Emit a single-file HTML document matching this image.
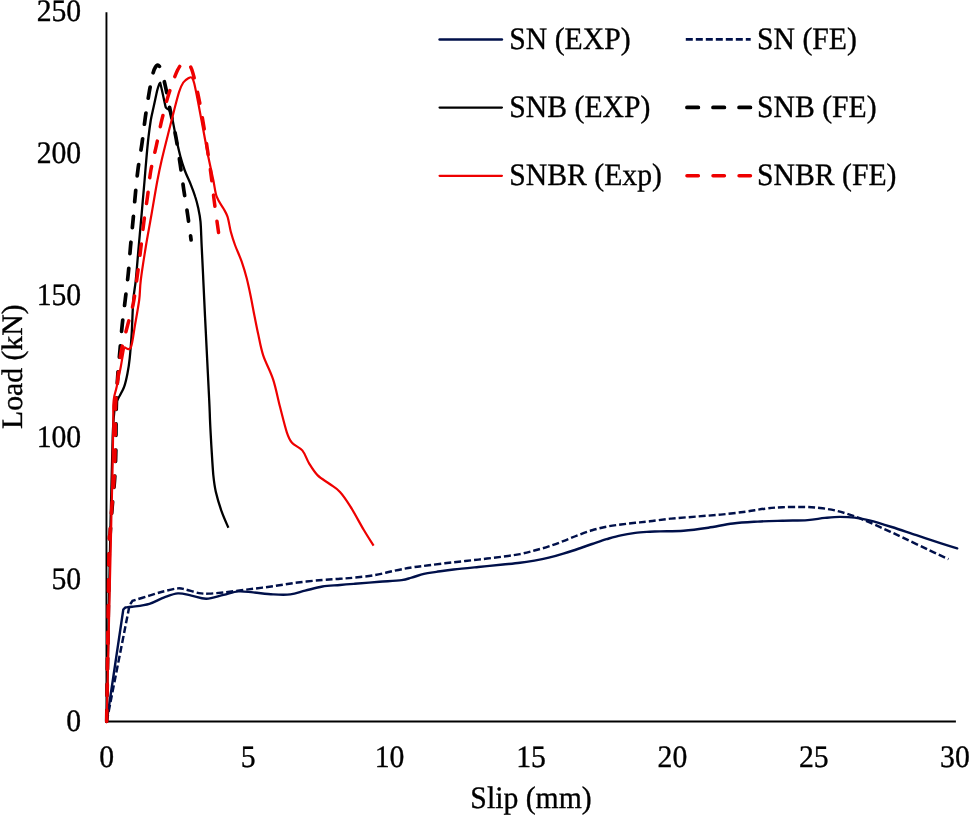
<!DOCTYPE html>
<html><head><meta charset="utf-8"><title>Load-Slip</title>
<style>
html,body{margin:0;padding:0;background:#fff;}
body{width:971px;height:816px;overflow:hidden;}
svg{display:block;will-change:transform;}
text{text-rendering:geometricPrecision;font-family:"Liberation Serif",serif;font-size:30px;fill:#000;stroke:#000;stroke-width:0.35px;}
</style></head><body>
<svg id="c" width="971" height="816" viewBox="0 0 971 816">

<!-- axes -->
<path d="M106.45 12.2 V721.5 H955.9" fill="none" stroke="#000" stroke-width="1.9"/>
<!-- y ticks -->
<text text-anchor="end" transform="translate(81.2 21.1) scale(0.99 1.04)">250</text>
<text text-anchor="end" transform="translate(81.2 163.0) scale(0.99 1.04)">200</text>
<text text-anchor="end" transform="translate(81.2 305.0) scale(0.99 1.04)">150</text>
<text text-anchor="end" transform="translate(81.2 446.9) scale(0.99 1.04)">100</text>
<text text-anchor="end" transform="translate(81.2 588.8) scale(0.99 1.04)">50</text>
<text text-anchor="end" transform="translate(81.2 730.6) scale(0.99 1.04)">0</text>
<!-- x ticks -->
<text text-anchor="middle" transform="translate(106.6 766.5) scale(0.99 1.04)">0</text>
<text text-anchor="middle" transform="translate(248.1 766.5) scale(0.99 1.04)">5</text>
<text text-anchor="middle" transform="translate(389.6 766.5) scale(0.99 1.04)">10</text>
<text text-anchor="middle" transform="translate(531.0 766.5) scale(0.99 1.04)">15</text>
<text text-anchor="middle" transform="translate(672.4 766.5) scale(0.99 1.04)">20</text>
<text text-anchor="middle" transform="translate(813.8 766.5) scale(0.99 1.04)">25</text>
<text text-anchor="middle" transform="translate(954.9 766.5) scale(0.99 1.04)">30</text>
<text id="xl" text-anchor="middle" transform="translate(531.0 808.0) scale(0.99 1.04)">Slip (mm)</text>
<text id="yl" text-anchor="middle" style="font-size:29.7px" transform="translate(22.4 366.7) rotate(-90)">Load (kN)</text>
<!-- CURVES -->
<path d="M106.7 721.5 C109.5 702.8 120.5 628.2 123.3 609.5 C123.7 609.1 125.1 607.8 125.5 607.4 C126.6 607.3 128.1 607.4 132.1 606.8 C136.1 606.2 144.0 605.4 149.4 603.8 C154.8 602.2 159.6 599.0 164.3 597.3 C169.1 595.6 173.4 593.7 177.9 593.4 C182.4 593.1 186.7 594.7 191.4 595.6 C196.1 596.5 200.9 598.9 206.3 598.8 C211.7 598.7 218.2 596.1 223.6 594.9 C228.9 593.7 233.5 591.8 238.4 591.4 C243.3 591.0 247.4 591.9 253.2 592.4 C259.0 592.9 266.8 594.1 273.0 594.4 C279.2 594.7 284.9 595.0 290.3 594.4 C295.7 593.8 299.8 592.0 305.1 590.7 C310.5 589.4 316.6 587.5 322.4 586.5 C328.2 585.5 334.6 585.5 340.0 585.0 C345.4 584.5 348.1 584.3 354.7 583.8 C361.3 583.3 371.6 582.4 379.4 581.8 C387.2 581.2 396.3 580.8 401.7 580.1 C407.1 579.4 407.9 578.6 411.6 577.6 C415.3 576.6 419.8 574.9 423.9 573.9 C428.0 572.9 431.4 572.6 436.3 571.9 C441.2 571.2 446.6 570.3 453.6 569.5 C460.6 568.7 470.1 567.8 478.3 567.0 C486.5 566.2 496.1 565.2 503.0 564.5 C509.9 563.8 514.8 563.4 520.0 562.7 C525.2 562.1 529.6 561.4 534.4 560.6 C539.2 559.8 544.0 558.9 548.8 557.7 C553.6 556.5 558.5 555.1 563.3 553.6 C568.1 552.1 572.9 550.6 577.7 549.0 C582.5 547.4 587.3 545.6 592.1 544.0 C596.9 542.4 601.7 540.7 606.5 539.2 C611.3 537.8 616.1 536.3 620.9 535.3 C625.7 534.2 630.5 533.5 635.3 532.9 C640.1 532.3 645.7 532.0 649.8 531.7 C653.9 531.5 654.4 531.6 660.0 531.4 C665.6 531.2 675.6 531.3 683.6 530.7 C691.6 530.1 700.1 528.9 708.3 527.7 C716.5 526.5 724.8 524.5 733.0 523.5 C741.2 522.5 749.5 522.1 757.7 521.6 C765.9 521.1 774.1 521.0 782.4 520.8 C790.7 520.5 800.5 520.6 807.6 520.1 C814.7 519.6 819.5 518.4 824.9 517.9 C830.3 517.4 834.8 516.9 839.8 516.9 C844.8 516.9 849.7 517.0 854.6 517.6 C859.5 518.2 863.2 518.7 869.4 520.3 C875.6 521.9 883.9 524.5 891.7 527.0 C899.5 529.5 908.2 532.5 916.4 535.2 C924.6 537.9 934.3 541.1 941.1 543.3 C947.9 545.5 954.5 547.5 957.2 548.3" fill="none" stroke="#00104a" stroke-width="2.4" stroke-linejoin="round" stroke-linecap="round"/>
<path d="M106.7 721.5 C110.5 702.1 125.8 624.4 129.6 605.0 C130.1 604.3 132.0 601.6 132.5 600.9 C135.3 600.0 144.1 597.2 149.4 595.6 C154.7 594.0 159.6 592.4 164.3 591.2 C169.1 590.0 174.4 588.7 177.9 588.4 C181.4 588.1 181.8 588.6 185.3 589.4 C188.8 590.2 195.0 592.4 198.9 593.1 C202.8 593.8 204.6 593.7 208.7 593.6 C212.8 593.5 217.0 593.1 223.6 592.4 C230.2 591.7 240.1 590.4 248.3 589.4 C256.5 588.4 264.8 587.4 273.0 586.2 C281.2 585.1 289.5 583.5 297.7 582.5 C305.9 581.5 315.3 580.6 322.4 580.0 C329.4 579.4 334.6 579.2 340.0 578.8 C345.4 578.4 348.9 578.2 354.7 577.6 C360.4 577.0 367.9 576.4 374.5 575.2 C381.1 574.1 388.1 572.0 394.3 570.7 C400.5 569.4 405.8 568.4 411.6 567.5 C417.4 566.6 421.9 566.2 428.9 565.3 C435.9 564.4 445.4 563.2 453.6 562.3 C461.8 561.3 470.1 560.5 478.3 559.6 C486.5 558.7 496.1 557.5 503.0 556.6 C509.9 555.7 514.8 555.1 520.0 554.1 C525.2 553.1 529.6 551.8 534.4 550.5 C539.2 549.2 544.0 548.0 548.8 546.4 C553.6 544.8 558.5 543.0 563.3 541.1 C568.1 539.2 572.9 537.1 577.7 535.3 C582.5 533.5 587.3 531.7 592.1 530.3 C596.9 528.9 601.7 527.7 606.5 526.7 C611.3 525.7 616.1 525.1 620.9 524.5 C625.7 523.9 630.5 523.3 635.3 522.8 C640.1 522.3 643.8 522.0 649.8 521.3 C655.8 520.6 663.5 519.4 671.2 518.6 C678.9 517.8 687.6 517.3 695.9 516.6 C704.1 515.9 712.5 515.4 720.7 514.6 C729.0 513.8 738.0 512.7 745.4 511.7 C752.8 510.7 758.9 509.4 765.1 508.7 C771.3 507.9 775.7 507.5 782.4 507.2 C789.1 506.9 798.8 506.9 805.1 507.0 C811.4 507.1 815.0 507.4 820.0 508.0 C825.0 508.6 829.9 509.3 834.8 510.4 C839.7 511.5 844.6 513.0 849.6 514.6 C854.6 516.2 858.7 517.9 864.5 520.3 C870.3 522.7 877.6 526.0 884.2 529.0 C890.8 532.0 896.6 534.6 904.0 538.1 C911.4 541.6 921.3 546.5 928.7 550.0 C936.1 553.5 945.2 557.6 948.5 559.1" fill="none" stroke="#00104a" stroke-width="2.45" stroke-dasharray="7 3"/>
<path d="M106.7 721.5 C107.3 687.9 109.6 567.6 110.6 520.0 C111.6 472.4 112.0 454.3 112.7 436.0 C113.4 417.7 114.0 415.4 114.5 410.0 C115.0 404.6 115.2 405.2 115.8 403.3 C116.4 401.4 116.9 401.1 118.3 398.3 C119.7 395.5 122.7 390.9 124.2 386.7 C125.7 382.5 126.6 378.0 127.5 373.3 C128.4 368.6 129.0 365.0 129.7 358.3 C130.4 351.6 131.1 343.0 131.7 333.3 C132.3 323.6 132.6 308.9 133.3 300.0 C134.0 291.1 134.9 288.9 135.8 280.0 C136.7 271.1 137.7 257.8 138.7 246.7 C139.7 235.6 140.9 221.8 141.7 213.3 C142.4 204.9 142.7 201.6 143.2 196.0 C143.7 190.4 144.1 185.8 144.6 180.0 C145.1 174.2 145.5 168.2 146.2 161.0 C146.8 153.8 147.7 143.8 148.5 137.0 C149.3 130.2 150.0 125.0 150.8 120.0 C151.7 115.0 152.5 111.9 153.6 107.0 C154.7 102.1 156.3 94.3 157.2 90.5 C158.1 86.7 158.7 85.5 159.2 84.2 C159.7 82.9 160.0 83.0 160.2 82.8 C160.7 84.8 162.1 90.9 163.0 95.0 C163.9 99.1 165.2 105.2 165.7 107.2 C165.9 107.4 166.4 108.2 167.0 108.6 C167.6 109.0 168.9 109.6 169.3 109.8 C169.6 110.7 170.6 113.3 171.2 115.0 C171.8 116.7 171.8 116.0 172.6 120.0 C173.4 124.0 175.0 132.7 176.3 138.8 C177.6 144.9 179.0 151.3 180.4 156.5 C181.8 161.7 182.9 165.3 184.6 170.0 C186.3 174.7 189.0 180.1 190.8 184.6 C192.6 189.1 194.1 193.1 195.3 197.0 C196.6 200.9 197.4 204.2 198.3 208.3 C199.2 212.4 199.9 215.3 200.5 221.7 C201.1 228.1 201.2 237.0 201.7 246.7 C202.2 256.4 202.8 268.4 203.3 280.0 C203.9 291.6 204.4 304.3 205.0 316.0 C205.6 327.7 206.0 336.0 206.7 350.0 C207.4 364.0 208.6 388.3 209.2 400.0 C209.8 411.7 209.7 412.5 210.0 420.0 C210.3 427.5 210.8 435.8 211.3 445.0 C211.9 454.2 212.6 467.2 213.3 475.0 C214.1 482.8 214.4 485.6 215.8 491.7 C217.2 497.8 219.6 505.7 221.7 511.7 C223.8 517.7 227.3 525.1 228.4 527.8" fill="none" stroke="#000" stroke-width="2.3" stroke-linejoin="round"/>
<path d="M106.7 721.5 C107.1 693.9 108.6 587.4 109.2 556.0 C109.8 524.6 109.7 541.5 110.2 533.3 C110.7 525.1 111.5 515.4 112.2 506.7 C112.9 497.9 113.9 489.4 114.5 480.8 C115.1 472.2 115.5 463.8 115.7 455.0 C116.0 446.2 115.9 437.1 116.0 428.3 C116.1 419.6 116.1 411.4 116.4 402.5 C116.7 393.6 117.2 383.8 117.8 375.0 C118.4 366.2 119.3 358.3 120.0 350.0 C120.7 341.7 121.3 333.5 122.2 325.0 C123.1 316.5 124.3 307.8 125.3 299.2 C126.3 290.6 127.4 282.1 128.3 273.3 C129.2 264.6 129.7 255.4 130.5 246.7 C131.3 237.9 132.2 229.4 133.0 220.8 C133.8 212.2 134.5 203.6 135.3 195.0 C136.1 186.4 136.9 177.8 138.0 169.2 C139.1 160.6 140.8 151.9 142.0 143.3 C143.2 134.7 144.1 126.1 145.3 117.5 C146.5 108.9 148.0 99.3 149.3 91.7 C150.7 84.1 152.1 76.3 153.4 71.9 C154.8 67.5 156.2 65.9 157.4 65.2 C158.6 64.5 160.1 67.5 160.7 68.0" fill="none" stroke="#000" stroke-width="3.7" stroke-linecap="round" stroke-dasharray="11.4 14.65"/>
<path d="M160.7 68.0 C161.5 71.0 163.7 78.7 165.3 85.8 C166.9 92.9 168.6 102.3 170.3 110.8 C172.1 119.3 174.1 127.7 175.8 136.7 C177.5 145.7 179.0 156.1 180.3 165.0 C181.6 173.9 182.6 181.5 183.8 190.0 C185.1 198.5 186.6 207.5 187.8 215.8 C189.0 224.1 190.6 236.0 191.1 240.0" fill="none" stroke="#000" stroke-width="3.7" stroke-linecap="round" stroke-dasharray="11.4 14.65" stroke-dashoffset="11.79"/>
<path d="M106.7 721.5 C107.3 693.9 109.7 589.6 110.5 556.0 C111.3 522.4 111.0 534.3 111.3 520.0 C111.6 505.7 112.2 486.7 112.5 470.0 C112.8 453.3 113.2 430.8 113.3 420.0 C113.4 409.2 113.1 408.9 113.3 405.0 C113.5 401.1 113.6 399.8 114.2 396.7 C114.8 393.6 115.6 391.7 116.7 386.7 C117.8 381.7 119.5 373.3 120.8 366.7 C122.0 360.1 123.6 350.4 124.2 347.2" fill="none" stroke="#ee0000" stroke-width="2.2" stroke-linejoin="round"/>
<path d="M124.2 347.2 C125.3 347.2 129.0 351.2 130.8 347.5 C132.6 343.8 133.6 332.9 135.0 325.0 C136.4 317.1 138.2 307.5 139.2 300.0 C140.2 292.5 139.7 288.9 140.8 280.0 C141.9 271.1 144.0 257.8 145.8 246.7 C147.6 235.6 149.8 224.4 151.7 213.3 C153.6 202.2 155.8 188.9 157.5 180.0 C159.2 171.1 159.9 167.8 161.7 160.0 C163.5 152.2 166.2 141.6 168.3 133.3 C170.4 125.0 172.4 116.9 174.2 110.0 C176.0 103.1 177.7 96.3 179.2 91.7 C180.7 87.1 181.8 84.7 183.3 82.5 C184.8 80.3 186.9 79.1 188.3 78.3 C189.7 77.5 190.7 76.7 191.7 77.5 C192.7 78.3 193.1 79.0 194.2 83.3 C195.3 87.6 196.8 95.5 198.3 103.3 C199.8 111.1 201.6 121.1 203.3 130.0 C205.0 138.9 206.6 148.4 208.3 156.7 C210.0 165.0 211.9 173.3 213.3 180.0 C214.7 186.7 215.0 192.0 216.7 196.7 C218.4 201.4 221.5 205.0 223.3 208.3 C225.1 211.6 226.2 212.8 227.5 216.7 C228.8 220.6 229.6 227.0 230.8 231.7 C232.1 236.4 233.2 240.0 235.0 245.0 C236.8 250.0 239.8 256.1 241.7 261.7 C243.6 267.2 245.2 272.5 246.7 278.3 C248.2 284.1 249.5 290.4 250.8 296.7 C252.1 303.0 253.2 309.6 254.5 316.0 C255.8 322.4 256.9 328.4 258.4 335.0 C259.8 341.6 260.8 348.0 263.2 355.4 C265.6 362.8 270.3 370.8 273.1 379.4 C275.9 388.0 277.7 397.9 280.0 406.8 C282.3 415.7 284.9 426.6 286.9 432.6 C288.9 438.6 289.4 439.8 292.0 442.8 C294.6 445.8 299.4 447.0 302.3 450.4 C305.2 453.8 306.5 459.2 309.1 463.4 C311.7 467.6 314.3 472.0 317.7 475.4 C321.1 478.8 326.0 481.2 329.7 484.0 C333.4 486.8 336.6 488.2 340.0 491.9 C343.4 495.6 346.3 499.9 350.3 506.3 C354.3 512.7 360.1 523.7 364.0 530.3 C367.9 536.9 372.0 543.1 373.6 545.7" fill="none" stroke="#ee0000" stroke-width="2.2" stroke-linejoin="round"/>
<path d="M106.7 721.5 C107.1 693.9 108.4 587.4 108.9 556.0 C109.5 524.6 109.5 541.5 110.0 533.3 C110.5 525.1 111.2 515.4 111.9 506.7 C112.6 497.9 113.5 489.4 114.0 480.8 C114.5 472.2 114.8 463.8 115.0 455.0 C115.2 446.2 115.2 437.1 115.3 428.3 C115.4 419.6 115.3 411.1 115.8 402.5 C116.2 393.9 117.1 385.3 118.0 376.7 C118.9 368.1 119.7 359.3 121.3 350.8 C122.9 342.3 125.5 333.7 127.5 325.8 C129.5 317.9 131.6 311.9 133.3 303.3 C135.0 294.7 136.2 283.4 137.5 274.2 C138.8 265.0 139.8 256.9 140.8 248.3 C141.9 239.7 142.7 231.1 143.8 222.5 C144.9 213.9 146.3 205.3 147.5 196.7 C148.7 188.1 149.3 179.3 150.8 170.8 C152.3 162.3 154.4 154.4 156.3 145.8 C158.2 137.2 159.9 127.8 162.0 119.2 C164.1 110.6 166.1 102.4 168.7 94.2 C171.3 86.0 174.9 75.7 177.5 70.3 C180.1 64.9 182.2 63.3 184.0 62.0 C185.8 60.7 187.3 62.4 188.0 62.5" fill="none" stroke="#ee0000" stroke-width="3.5" stroke-linecap="round" stroke-dasharray="11.4 14.65"/>
<path d="M188.0 62.5 C188.8 64.0 190.7 65.9 192.5 71.7 C194.3 77.5 196.9 88.9 198.7 97.5 C200.5 106.1 201.8 114.5 203.3 123.3 C204.8 132.1 206.2 141.1 207.5 150.0 C208.8 158.9 210.2 168.2 211.3 176.7 C212.4 185.2 213.0 191.4 214.2 200.8 C215.4 210.2 217.9 227.9 218.7 233.3" fill="none" stroke="#ee0000" stroke-width="3.5" stroke-linecap="round" stroke-dasharray="11.4 14.65" stroke-dashoffset="20.66"/>
<!-- /CURVES -->
<!-- legend -->
<g id="legend">
<line x1="439.6" y1="39.4" x2="501.9" y2="39.4" stroke="#00104a" stroke-width="2.5" stroke-linecap="round"/>
<line x1="439.6" y1="107.55" x2="501.9" y2="107.55" stroke="#000" stroke-width="2.3" stroke-linecap="round"/>
<line x1="439.6" y1="175.85" x2="501.9" y2="175.85" stroke="#ee0000" stroke-width="2.3" stroke-linecap="round"/>
<text id="l1" transform="translate(509.3 48.6) scale(0.99 1.04)">SN (EXP)</text>
<text id="l2" transform="translate(509.3 116.9) scale(0.99 1.04)">SNB (EXP)</text>
<text id="l3" transform="translate(509.3 185.1) scale(0.99 1.04)">SNBR (Exp)</text>
<line x1="685.8" y1="39.4" x2="750.7" y2="39.4" stroke="#00104a" stroke-width="2.6" stroke-dasharray="7 3"/>
<line x1="686.95" y1="107.45" x2="750.6" y2="107.45" stroke="#000" stroke-width="3.7" stroke-linecap="round" stroke-dasharray="11.4 14.65"/>
<line x1="686.95" y1="175.85" x2="750.6" y2="175.85" stroke="#ee0000" stroke-width="3.5" stroke-linecap="round" stroke-dasharray="11.4 14.65"/>
<text id="r1" transform="translate(757.0 48.6) scale(0.99 1.04)">SN (FE)</text>
<text id="r2" transform="translate(757.0 116.9) scale(0.99 1.04)">SNB (FE)</text>
<text id="r3" transform="translate(757.0 185.1) scale(0.99 1.04)">SNBR (FE)</text>
</g>
</svg>
</body></html>
